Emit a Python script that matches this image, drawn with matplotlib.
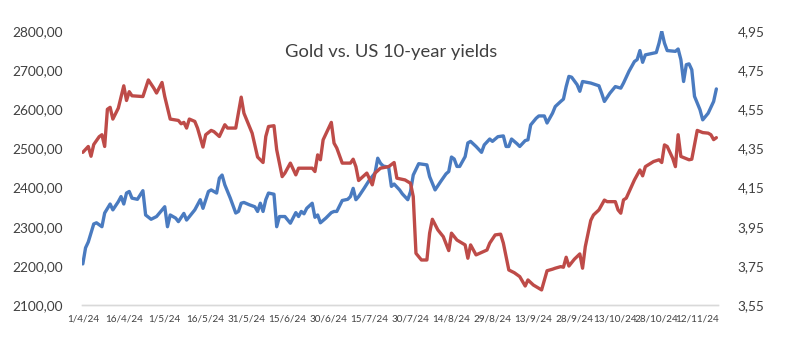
import pandas as pd
import matplotlib.pyplot as plt
import matplotlib.dates as mdates
from matplotlib.ticker import FuncFormatter, FixedLocator

plt.rcParams['font.family'] = ['Lato', 'DejaVu Sans']

start = pd.Timestamp('2024-04-01')

# Gold price (left axis), days after 1/4/24
gold_days = [0, 1, 2, 4, 5, 7, 8, 10, 11, 13, 14, 15, 16, 17, 18, 20, 22, 23, 25, 27,
             30, 31, 32, 34, 35, 37, 38, 41, 43, 44, 46, 47, 49, 50, 51, 52, 54, 56, 57, 58,
             59, 61, 63, 64, 65, 66, 67, 68, 70, 71, 72, 74, 76, 78, 79, 80, 81, 82, 84, 85,
             86, 87, 89, 91, 92, 93, 95, 97, 98, 99, 100, 101, 103, 105, 107, 108, 109, 110, 112, 113,
             114, 116, 117, 119, 120, 121, 123, 124, 126, 127, 129, 131, 133, 134, 135, 136, 137, 138, 140, 141,
             142, 144, 146, 147, 149, 150, 152, 154, 155, 156, 157, 159, 160, 162, 163, 164, 166, 167, 169, 170,
             172, 173, 175, 176, 177, 178, 179, 181, 182, 183, 186, 189, 190, 191, 193, 195, 197, 198, 200, 202,
             203, 204, 205, 206, 210, 211, 212, 213, 214, 217, 218, 219, 220, 221, 222, 223, 224, 226, 227, 229,
             231, 232]
gold_price = [2205, 2246, 2261, 2307, 2310, 2300, 2335, 2358, 2343, 2364, 2377, 2358, 2386, 2390, 2373, 2370, 2392, 2330, 2319, 2326,
              2351, 2300, 2330, 2322, 2313, 2334, 2317, 2343, 2369, 2347, 2390, 2394, 2386, 2424, 2432, 2407, 2373, 2335, 2339, 2360,
              2362, 2356, 2351, 2339, 2360, 2339, 2369, 2386, 2383, 2300, 2326, 2326, 2309, 2336, 2326, 2339, 2333, 2347, 2360, 2324,
              2330, 2310, 2322, 2336, 2339, 2339, 2367, 2370, 2377, 2398, 2369, 2377, 2398, 2420, 2437, 2475, 2462, 2455, 2452, 2403,
              2409, 2394, 2384, 2369, 2390, 2432, 2461, 2460, 2458, 2428, 2394, 2415, 2435, 2441, 2478, 2473, 2454, 2454, 2479, 2514,
              2518, 2505, 2490, 2509, 2524, 2518, 2530, 2532, 2505, 2505, 2524, 2512, 2505, 2520, 2522, 2560, 2577, 2583, 2583, 2565,
              2590, 2607, 2620, 2626, 2658, 2684, 2682, 2663, 2646, 2671, 2667, 2660, 2641, 2620, 2641, 2658, 2654, 2667, 2697, 2722,
              2727, 2750, 2720, 2739, 2745, 2769, 2799, 2769, 2750, 2748, 2754, 2727, 2671, 2714, 2716, 2701, 2633, 2599, 2573, 2590,
              2620, 2652]

# US 10-year yield (right axis)
yield_days = [0, 2, 3, 4, 6, 7, 8, 9, 10, 11, 13, 15, 16, 17, 18, 22, 24, 26, 27, 29,
              30, 32, 35, 36, 37, 38, 39, 41, 42, 44, 45, 47, 48, 50, 52, 53, 56, 58, 59, 62,
              64, 66, 67, 68, 70, 71, 73, 74, 76, 78, 79, 84, 85, 86, 87, 88, 91, 92, 93, 95,
              98, 99, 100, 101, 104, 106, 107, 109, 112, 114, 115, 118, 120, 121, 122, 124, 126, 127, 128, 130,
              132, 134, 135, 137, 140, 141, 142, 144, 148, 149, 151, 153, 154, 156, 158, 160, 162, 163, 165, 168,
              170, 172, 173, 175, 176, 177, 178, 180, 182, 183, 184, 186, 187, 189, 191, 192, 195, 196, 197, 198,
              199, 202, 204, 205, 206, 209, 211, 212, 213, 214, 216, 217, 218, 219, 222, 223, 224, 225, 227, 229,
              230, 231, 232]
yield_pct = [4.33, 4.36, 4.31, 4.37, 4.41, 4.42, 4.36, 4.55, 4.56, 4.50, 4.556, 4.67, 4.595, 4.64, 4.619, 4.615, 4.70, 4.658, 4.633, 4.687,
             4.615, 4.50, 4.493, 4.476, 4.483, 4.454, 4.50, 4.488, 4.454, 4.357, 4.42, 4.442, 4.436, 4.411, 4.471, 4.454, 4.454, 4.612, 4.53, 4.428,
             4.306, 4.278, 4.411, 4.462, 4.466, 4.343, 4.206, 4.224, 4.275, 4.215, 4.249, 4.249, 4.232, 4.317, 4.292, 4.394, 4.483, 4.377, 4.352, 4.275,
             4.275, 4.295, 4.257, 4.186, 4.224, 4.164, 4.224, 4.249, 4.257, 4.278, 4.198, 4.189, 4.172, 4.104, 3.814, 3.78, 3.78, 3.917, 3.988, 3.934,
             3.899, 3.828, 3.917, 3.882, 3.857, 3.789, 3.857, 3.806, 3.831, 3.866, 3.908, 3.912, 3.866, 3.729, 3.715, 3.695, 3.647, 3.678, 3.652, 3.627,
             3.725, 3.733, 3.738, 3.746, 3.743, 3.794, 3.749, 3.784, 3.811, 3.738, 3.848, 3.982, 4.01, 4.036, 4.086, 4.078, 4.078, 4.036, 4.019, 4.087,
             4.096, 4.189, 4.24, 4.21, 4.257, 4.283, 4.292, 4.278, 4.368, 4.36, 4.30, 4.257, 4.42, 4.309, 4.292, 4.295, 4.368, 4.442, 4.431, 4.428,
             4.42, 4.395, 4.405]

tick_days = list(range(0, 226, 15))

gold_dates = start + pd.to_timedelta(gold_days, unit='D')
yield_dates = start + pd.to_timedelta(yield_days, unit='D')
tick_dates = start + pd.to_timedelta(tick_days, unit='D')

text_col = '#404040'


def comma_fmt(v, p):
    return f"{v:.2f}".replace('.', ',')


def date_fmt(v, p):
    d = mdates.num2date(v)
    return f"{d.day}/{d.month}/{d.year % 100}"


fig = plt.figure(figsize=(7.91, 3.5), dpi=100)
ax = fig.add_axes([82 / 791, 1 - 305 / 350, 636 / 791, 274 / 350])
ax2 = ax.twinx()

ax.plot(gold_dates, gold_price, color='#4A7BC0', lw=2.4, solid_joinstyle='round', solid_capstyle='round')
ax2.plot(yield_dates, yield_pct, color='#BE4B48', lw=2.4, solid_joinstyle='round', solid_capstyle='round')

ax.set_xlim(start - pd.Timedelta(days=0.3), start + pd.Timedelta(days=232.6))
ax.set_ylim(2100, 2800)
ax2.set_ylim(3.55, 4.95)

ax.xaxis.set_major_locator(FixedLocator(mdates.date2num(tick_dates)))
ax.xaxis.set_major_formatter(FuncFormatter(date_fmt))
ax.set_yticks(range(2100, 2801, 100))
ax.yaxis.set_major_formatter(FuncFormatter(comma_fmt))
ax2.set_yticks([3.55 + 0.2 * i for i in range(8)])
ax2.yaxis.set_major_formatter(FuncFormatter(comma_fmt))

for a in (ax, ax2):
    for s in ('top', 'left', 'right'):
        a.spines[s].set_visible(False)
    a.spines['bottom'].set_color('#D9D9D9')
    a.spines['bottom'].set_linewidth(1.0)
    a.tick_params(length=0, labelsize=9.8, labelcolor=text_col)
ax.tick_params(axis='y', pad=14)
ax2.tick_params(axis='y', pad=14)
ax.tick_params(axis='x', pad=7, labelsize=7.2)
ax2.set_zorder(ax.get_zorder() + 1)

fig.text(391 / 791, 1 - 52 / 350, 'Gold vs. US 10-year yields', ha='center', va='center',
         fontsize=13.2, color=text_col)

fig.savefig('out.png', dpi=100)
